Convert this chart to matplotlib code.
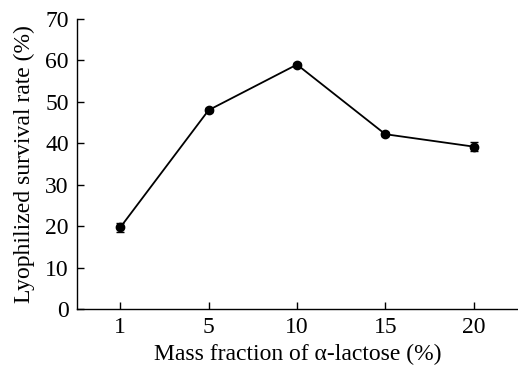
import numpy as np
import matplotlib
matplotlib.use("Agg")
from matplotlib import pyplot as plt

plt.rcParams['font.family'] = ['Liberation Serif', 'DejaVu Serif']

fractions = ['1', '5', '10', '15', '20']
survival = [19.7, 48.0, 59.0, 42.2, 39.2]
errors = [1.0, 0.5, 0.5, 0.5, 1.0]

fig = plt.figure(figsize=(5.18, 3.76), dpi=100)
ax = fig.add_axes([0.1486, 0.178, 0.851, 0.7715])

x = np.arange(len(fractions))
ax.errorbar(x, survival, yerr=errors, color='black', marker='o', markersize=6,
            linewidth=1.3, elinewidth=1.0, capsize=3, capthick=1.0)

ax.set_xlim(-0.49, 4.5)
ax.set_ylim(0, 70)
ax.set_xticks(x)
ax.set_xticklabels(fractions)
ax.set_yticks(np.arange(0, 71, 10))
ax.tick_params(direction='in', labelsize=17, length=5, width=1.0, pad=6)
ax.spines['top'].set_visible(False)
ax.spines['right'].set_visible(False)
for s in ['left', 'bottom']:
    ax.spines[s].set_linewidth(1.0)

ax.set_xlabel('Mass fraction of α-lactose (%)', fontsize=17, labelpad=4)
ax.set_ylabel('Lyophilized survival rate (%)', fontsize=17, labelpad=7)

fig.savefig('out.png', dpi=100)
